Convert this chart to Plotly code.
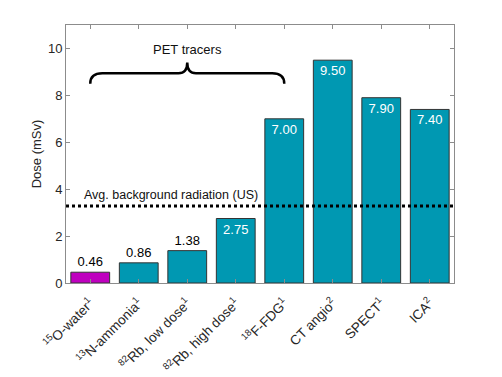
import plotly.graph_objects as go

categories = ["<sup>15</sup>O-water<sup>1</sup>", "<sup>13</sup>N-ammonia<sup>1</sup>",
              "<sup>82</sup>Rb, low dose<sup>1</sup>", "<sup>82</sup>Rb, high dose<sup>1</sup>",
              "<sup>18</sup>F-FDG<sup>1</sup>", "CT angio<sup>2</sup>", "SPECT<sup>1</sup>", "ICA<sup>2</sup>"]
doses = [0.46, 0.86, 1.38, 2.75, 7.00, 9.50, 7.90, 7.40]
bar_colors = ["#bf00bf"] + ["#0098b2"] * 7
background = 3.28
yticks = [0, 2, 4, 6, 8, 10]

xs = list(range(len(categories)))
label_pos = ["outside" if d < 2 else "inside" for d in doses]
label_col = ["black" if d < 2 else "white" for d in doses]

font = "Liberation Sans, Arial, sans-serif"
fig = go.Figure()
fig.add_trace(go.Bar(
    x=xs, y=doses, width=0.8,
    marker=dict(color=bar_colors, line=dict(color="#333333", width=1)),
    text=[f"{d:.2f}" for d in doses], textposition=label_pos,
    insidetextanchor="end", textangle=0,
    textfont=dict(color=label_col, size=13, family=font),
    cliponaxis=False, showlegend=False,
))

fig.add_shape(type="line", xref="paper", x0=0, x1=1, yref="y", y0=background, y1=background,
              line=dict(color="black", width=3, dash="dot"))
fig.add_annotation(x=-0.17, y=background, yshift=11, text="Avg. background radiation (US)",
                   showarrow=False, xanchor="left", yanchor="middle",
                   font=dict(size=12.5, color="#111", family=font))

# brace over PET tracers
brace = ("M 0,8.5 Q 0,8.94 0.25,8.94 L 1.82,8.94 Q 2,8.94 2,9.4 "
         "Q 2,8.94 2.18,8.94 L 3.75,8.94 Q 4,8.94 4,8.5")
fig.add_shape(type="path", path=brace, xref="x", yref="y", line=dict(color="black", width=2.5))
fig.add_annotation(x=2, y=9.94, text="PET tracers", showarrow=False,
                   font=dict(size=13, color="#111", family=font))

axis_common = dict(showline=True, linecolor="#8c8c8c", linewidth=1, mirror="ticks",
                   ticks="inside", ticklen=4, tickcolor="#8c8c8c", showgrid=False, zeroline=False,
                   automargin=False)
fig.update_xaxes(range=[-0.5, 7.5], tickvals=xs, ticktext=categories, tickangle=-45,
                 ticklabelstandoff=6, tickfont=dict(size=13.5, color="#262626", family=font),
                 **axis_common)
fig.update_yaxes(range=[0, 11], tickvals=yticks, ticklabelstandoff=0,
                 tickfont=dict(size=13, color="#262626", family=font),
                 title=dict(text="Dose (mSv)", font=dict(size=13, color="#262626", family=font), standoff=3),
                 **axis_common)

fig.update_layout(width=502, height=377, margin=dict(l=58, r=56, t=17, b=102),
                  plot_bgcolor="white", paper_bgcolor="white", font=dict(family=font),
                  uniformtext=dict(mode=False))
fig.write_html("out.html")
